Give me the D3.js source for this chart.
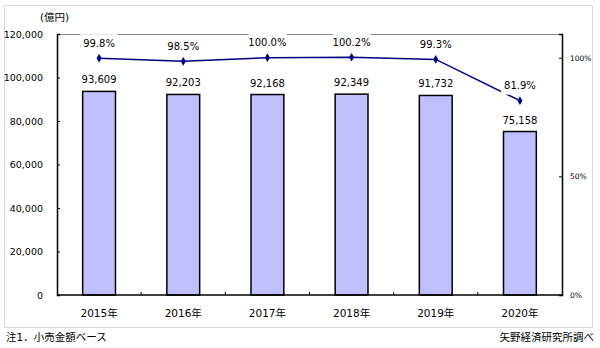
<!DOCTYPE html>
<html>
<head>
<meta charset="utf-8">
<script src="https://cdn.jsdelivr.net/npm/d3@7"></script>
<style>
  html, body { margin: 0; padding: 0; background: #fff; }
  svg { display: block; }
  text { font-family: "DejaVu Sans", Verdana, sans-serif; fill: #000; }
  .cjk { font-family: "DejaVu Sans", "Noto Sans CJK JP", sans-serif; }
</style>
</head>
<body>
<svg id="chart" width="600" height="348"></svg>
<script>
// Retail market size (100 million yen) and year-on-year ratio
const years = ["2015年", "2016年", "2017年", "2018年", "2019年", "2020年"];
const marketSize = [93609, 92203, 92168, 92349, 91732, 75158];
const yoyRatio = [0.998, 0.985, 1.000, 1.002, 0.993, 0.819];
const leftTicks = [0, 20000, 40000, 60000, 80000, 100000, 120000];
const rightTicks = [0, 0.5, 1.0];

const svg = d3.select("#chart");

const plot = { left: 57, right: 562, top: 34, bottom: 295 };

const x = d3.scaleBand().domain(years).range([plot.left, plot.right]).padding(0);
const y = d3.scaleLinear().domain([0, 120000]).range([plot.bottom, plot.top]);
const y2 = d3.scaleLinear().domain([0, 1.1]).range([plot.bottom, plot.top]);
const barW = x.bandwidth() * 0.39;

// outer frame
svg.append("rect")
  .attr("x", 4.5).attr("y", 5.5).attr("width", 588).attr("height", 322)
  .attr("fill", "none").attr("stroke", "#d9d9d9").attr("stroke-width", 1);

// top edge of the plot area
svg.append("line")
  .attr("x1", plot.left).attr("x2", plot.right)
  .attr("y1", plot.top + 0.5).attr("y2", plot.top + 0.5)
  .attr("stroke", "#868686").attr("stroke-width", 1);

// bars
svg.append("g").selectAll("rect").data(marketSize).join("rect")
  .attr("x", (d, i) => x(years[i]) + (x.bandwidth() - barW) / 2)
  .attr("y", d => y(d))
  .attr("width", barW)
  .attr("height", d => y(0) - y(d))
  .attr("fill", "#c0c0ff")
  .attr("stroke", "#000").attr("stroke-width", 1.5);

// bar value labels
svg.append("g").selectAll("text").data(marketSize).join("text")
  .attr("x", (d, i) => x(years[i]) + x.bandwidth() / 2)
  .attr("y", d => y(d) - 8)
  .attr("text-anchor", "middle")
  .attr("font-size", 10)
  .text(d => d3.format(",")(d));

// left axis
const leftAxis = d3.axisLeft(y).tickValues(leftTicks).tickSize(-3).tickPadding(14)
  .tickFormat(d3.format(","));
const gl = svg.append("g").attr("transform", `translate(${plot.left},0)`).call(leftAxis);
gl.select(".domain").attr("stroke", "#000").attr("stroke-width", 1.5);
gl.selectAll(".tick line").attr("stroke", "#000");
gl.selectAll(".tick text").attr("font-size", 9.5).attr("font-family", "DejaVu Sans");

// right axis
const rightAxis = d3.axisRight(y2).tickValues(rightTicks).tickSize(-3).tickPadding(8)
  .tickFormat(d3.format(".0%"));
const gr = svg.append("g").attr("transform", `translate(${plot.right},0)`).call(rightAxis);
gr.select(".domain").attr("stroke", "#000").attr("stroke-width", 1.5);
gr.selectAll(".tick line").attr("stroke", "#000");
gr.selectAll(".tick text").attr("font-size", 7.5).attr("font-family", "DejaVu Sans");

// bottom axis with ticks between categories
const gb = svg.append("g");
gb.append("line")
  .attr("x1", plot.left).attr("x2", plot.right)
  .attr("y1", plot.bottom).attr("y2", plot.bottom)
  .attr("stroke", "#000").attr("stroke-width", 1.5);
gb.selectAll("line.sep").data(years.slice(1)).join("line")
  .attr("class", "sep")
  .attr("x1", d => x(d)).attr("x2", d => x(d))
  .attr("y1", plot.bottom).attr("y2", plot.bottom - 3)
  .attr("stroke", "#000");
gb.selectAll("text").data(years).join("text")
  .attr("class", "cjk")
  .attr("x", d => x(d) + x.bandwidth() / 2)
  .attr("y", plot.bottom + 22)
  .attr("text-anchor", "middle")
  .attr("font-size", 10.5)
  .text(d => d);

// year-on-year line
const cx = i => x(years[i]) + x.bandwidth() / 2;
svg.append("path")
  .datum(yoyRatio)
  .attr("fill", "none").attr("stroke", "#000080").attr("stroke-width", 1.5)
  .attr("d", d3.line().x((d, i) => cx(i)).y(d => y2(d)));
svg.append("g").selectAll("path").data(yoyRatio).join("path")
  .attr("transform", (d, i) => `translate(${cx(i)},${y2(d)})`)
  .attr("d", d3.symbol(d3.symbolDiamond, 22))
  .attr("fill", "#000080");

// ratio labels on white boxes
const rl = svg.append("g").selectAll("g").data(yoyRatio).join("g")
  .attr("transform", (d, i) => `translate(${cx(i)},${y2(d) - 15})`);
rl.append("rect")
  .attr("x", -19).attr("y", -9).attr("width", 38).attr("height", 18)
  .attr("fill", "#fff");
rl.append("text")
  .attr("text-anchor", "middle").attr("dy", "0.35em")
  .attr("font-size", 10)
  .text(d => d3.format(".1%")(d));

// unit
svg.append("text").attr("class", "cjk")
  .attr("x", 40).attr("y", 21).attr("font-size", 10.5)
  .text("(億円)");

// notes
svg.append("text").attr("class", "cjk")
  .attr("x", 6).attr("y", 341).attr("font-size", 10.5)
  .text("注1．小売金額ベース");
svg.append("text").attr("class", "cjk")
  .attr("x", 594).attr("y", 341).attr("font-size", 10.5)
  .attr("text-anchor", "end")
  .text("矢野経済研究所調べ");
</script>
</body>
</html>
